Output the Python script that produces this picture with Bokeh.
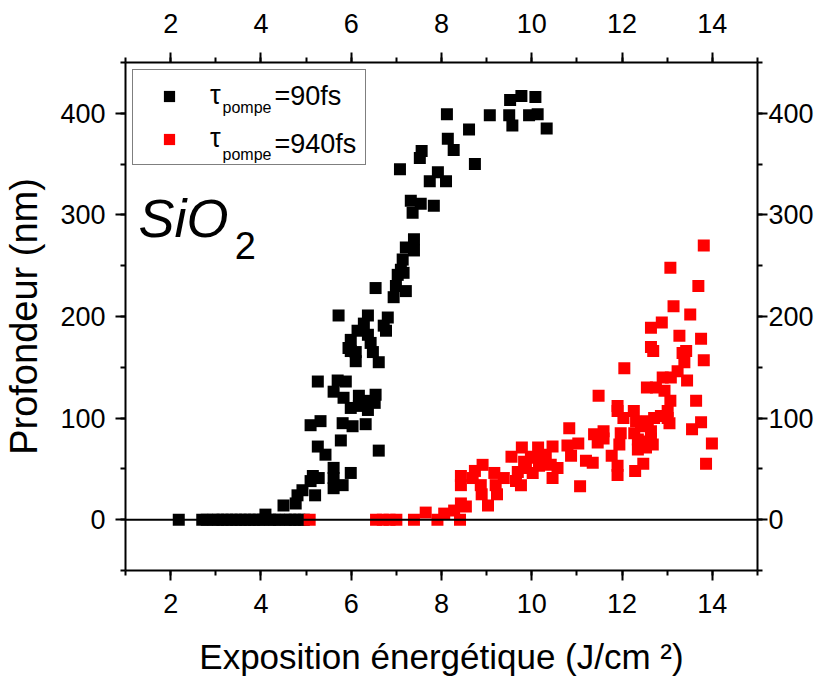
from bokeh.plotting import figure
from bokeh.models import (Range1d, LinearAxis, SingleIntervalTicker, Span, Label,
                          Legend, LegendItem, ColumnDataSource)
from bokeh.embed import file_html
from bokeh.resources import INLINE

# ---------------- data ----------------
black_x = [2.18, 2.70, 2.80, 2.95, 3.05, 3.15, 3.25, 3.35, 3.45, 3.55, 3.65, 3.75, 3.85, 3.95,
           4.05, 4.10, 4.20, 4.30, 4.40, 4.50, 4.55, 4.65, 4.75, 4.77, 4.81, 4.85, 4.92, 4.95,
           5.10, 5.10, 5.15, 5.20, 5.26, 5.26, 5.28, 5.32, 5.43, 5.61, 5.61, 5.61, 5.61, 5.70,
           5.72, 5.77, 5.81, 5.81, 5.83, 5.88, 5.94, 5.99, 5.99, 5.99, 5.99, 6.03, 6.10, 6.10,
           6.14, 6.17, 6.17, 6.28, 6.32, 6.37, 6.37, 6.37, 6.37, 6.43, 6.48, 6.52, 6.54, 6.54,
           6.61, 6.61, 6.72, 6.77, 6.81, 6.94, 6.99, 7.03, 7.08, 7.10, 7.14, 7.16, 7.21, 7.21,
           7.32, 7.36, 7.39, 7.39, 7.52, 7.54, 7.56, 7.74, 7.83, 7.92, 8.10, 8.12, 8.14, 8.27,
           8.61, 8.74, 9.07, 9.50, 9.52, 9.57, 9.77, 9.94, 10.08, 10.13, 10.33]
black_y = [0, 0, 0, 0, 0, 0, 0, 0, 0, 0, 0, 0, 0, 0,
           0, 5, 0, 0, 0, 14, 0, 0, 0, 16, 24, 0, 29, 0,
           38, 93, 43, 24, 72, 136, 41, 97, 64, 51, 41, 31, 126, 137,
           201, 78, 34, 95, 120, 136, 169, 46, 110, 177, 166, 92, 156, 165,
           186, 122, 112, 193, 94, 108, 117, 201, 182, 174, 165, 115, 123, 228,
           68, 155, 191, 186, 199, 219, 230, 241, 345, 246, 256, 243, 268, 225,
           314, 302, 276, 265, 356, 311, 363, 333, 309, 342, 333, 399, 375, 364,
           384, 350, 398, 398, 413, 388, 417, 398, 416, 399, 385]

red_x = [5.08, 6.55, 6.70, 6.85, 7.00, 7.39, 7.65, 7.91, 8.06, 8.28, 8.41, 8.43, 8.54, 8.43,
         8.43, 8.69, 8.74, 8.87, 8.89, 8.91, 9.03, 9.17, 9.20, 9.23, 9.38, 9.55, 9.65, 9.69,
         9.76, 9.78, 9.83, 9.87, 9.98, 10.02, 10.09, 10.14, 10.16, 10.31, 10.42, 10.46, 10.46,
         10.57, 10.79, 10.83, 10.87, 11.03, 11.07, 11.20, 11.35, 11.38, 11.46, 11.48, 11.59,
         11.59, 11.77, 11.90, 11.90, 11.90, 11.90, 11.94, 11.97, 12.03, 12.05, 12.26, 12.27,
         12.29, 12.31, 12.35, 12.35, 12.42, 12.47, 12.49, 12.53, 12.55, 12.57, 12.64, 12.64,
         12.64, 12.64, 12.68, 12.69, 12.71, 12.75, 12.86, 12.88, 12.90, 12.94, 13.01, 13.01,
         13.05, 13.07, 13.07, 13.08, 13.14, 13.23, 13.27, 13.34, 13.38, 13.42, 13.44, 13.51,
         13.55, 13.64, 13.69, 13.75, 13.75, 13.81, 13.81, 13.86, 13.99]
red_y = [0, 0, 0, 0, 0, 0, 7, 0, 6, 9, 0, 16, 13, 43,
         34, 41, 48, 34, 25, 54, 14, 46, 34, 25, 41, 62, 38, 47,
         34, 71, 57, 51, 62, 46, 61, 71, 53, 64, 54, 72, 41,
         51, 73, 90, 63, 75, 33, 58, 56, 84, 76, 122, 87,
         80, 63, 53, 44, 112, 107, 74, 85, 100, 149, 107, 85,
         48, 97, 79, 69, 92, 55, 77, 71, 130, 97, 87, 80,
         170, 189, 74, 166, 100, 130, 102, 194, 140, 127, 100, 107,
         95, 117, 248, 140, 210, 146, 181, 164, 155, 166, 137, 202,
         89, 117, 230, 178, 96, 270, 157, 55, 75]

series_labels = ["=90fs", "=940fs"]
x_ticks_interval = 2
y_ticks_interval = 100

FONT = "Liberation Sans"

p = figure(frame_width=632, frame_height=508, output_backend="svg", toolbar_location=None,
           x_range=Range1d(1, 15), y_range=Range1d(-50, 450),
           min_border_left=119, min_border_right=65, min_border_top=62, min_border_bottom=98)
p.outline_line_color = None
p.xgrid.visible = False
p.ygrid.visible = False
p.background_fill_color = "white"
p.border_fill_color = "white"

# zero line
p.add_layout(Span(location=0, dimension="width", line_color="black", line_width=2))

src_b = ColumnDataSource(dict(x=black_x, y=black_y))
src_r = ColumnDataSource(dict(x=red_x, y=red_y))
rb = p.scatter("x", "y", source=src_b, marker="square", size=12, fill_color="black",
               line_color="black", line_width=0)
rr = p.scatter("x", "y", source=src_r, marker="square", size=12, fill_color="#ff0000",
               line_color="#ff0000", line_width=0)


def style_axis(ax, standoff):
    ax.axis_line_width = 2
    ax.major_tick_line_width = 2
    ax.minor_tick_line_width = 2
    ax.major_tick_out = 10
    ax.major_tick_in = 0
    ax.minor_tick_out = 5
    ax.minor_tick_in = 0
    ax.major_label_text_font = FONT
    ax.major_label_text_font_size = "27px"
    ax.major_label_text_color = "black"
    ax.major_label_standoff = standoff
    ax.axis_label_text_font = FONT
    ax.axis_label_text_font_style = "normal"
    ax.axis_label_text_font_size = "35px"
    ax.axis_label_text_color = "black"


xt = SingleIntervalTicker(interval=x_ticks_interval, num_minor_ticks=2)
yt = SingleIntervalTicker(interval=y_ticks_interval, num_minor_ticks=2)

p.xaxis.ticker = xt
p.yaxis.ticker = yt
style_axis(p.xaxis[0], 13)
style_axis(p.yaxis[0], 10)
p.xaxis.axis_label = "Exposition énergétique (J/cm ²)"
p.yaxis.axis_label = "Profondeur (nm)"
p.yaxis.axis_label_text_font_size = "38px"
p.xaxis.axis_label_standoff = 21
p.yaxis.axis_label_standoff = 12

top = LinearAxis(ticker=SingleIntervalTicker(interval=x_ticks_interval, num_minor_ticks=2))
style_axis(top, 20)
p.add_layout(top, "above")
right = LinearAxis(ticker=SingleIntervalTicker(interval=y_ticks_interval, num_minor_ticks=2))
style_axis(right, 1)
right.major_label_orientation = "horizontal"
p.add_layout(right, "right")

legend = Legend(items=[LegendItem(label="τ", renderers=[rb]),
                       LegendItem(label="τ", renderers=[rr])],
                location="top_left", margin=7, padding=10, spacing=12,
                glyph_height=28, glyph_width=52, label_height=28, label_width=145,
                label_standoff=15, border_line_color="black", border_line_width=1,
                background_fill_alpha=0.0,
                label_text_font=FONT, label_text_font_size="27px",
                label_text_color="black", label_text_baseline="middle")
p.add_layout(legend)

# subscripts / suffixes of legend labels (data coordinates)
for yy, txt in [(406, "pompe"), (359, "pompe")]:
    p.add_layout(Label(x=3.15, y=yy, text=txt, text_font=FONT, text_font_size="16px",
                       text_color="black", text_baseline="alphabetic", text_align="left",
                       level="overlay"))
for yy, txt in zip([417, 370], series_labels):
    p.add_layout(Label(x=4.30, y=yy, text=txt, text_font=FONT, text_font_size="27px",
                       text_color="black", text_baseline="alphabetic", text_align="left",
                       level="overlay"))

# SiO2 annotation
p.add_layout(Label(x=1.29, y=297, text="SiO", text_font=FONT, text_font_size="54px",
                   text_color="black", text_font_style="italic", text_baseline="alphabetic",
                   level="overlay"))
p.add_layout(Label(x=3.42, y=270, text="2", text_font=FONT, text_font_size="38px",
                   text_color="black", text_baseline="alphabetic", level="overlay"))

open("out.html", "w").write(file_html(p, INLINE))
